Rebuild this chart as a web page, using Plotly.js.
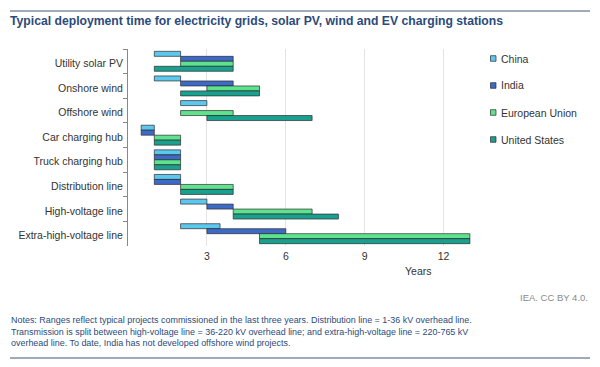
<!DOCTYPE html>
<html><head><meta charset="utf-8">
<script src="https://cdn.plot.ly/plotly-3.0.1.min.js"></script>
<style>body{margin:0;background:#fff}#c{width:600px;height:367px}</style>
</head><body><div id="c"></div>
<script>
var categories = ["Utility solar PV","Onshore wind","Offshore wind","Car charging hub","Truck charging hub","Distribution line","High-voltage line","Extra-high-voltage line"];
var seriesNames = ["China","India","European Union","United States"];
var chinaStart = [1,1,2,0.5,1,1,2,2];
var chinaEnd   = [2,2,3,1,2,2,3,3.5];
var indiaStart = [2,2,null,0.5,1,1,3,3];
var indiaEnd   = [4,4,null,1,2,2,4,6];
var euStart    = [2,3,2,1,1,2,4,5];
var euEnd      = [4,5,4,2,2,4,7,13];
var usStart    = [1,2,3,1,1,2,4,5];
var usEnd      = [4,5,7,2,2,4,8,13];
var xTicks = [3,6,9,12];

var colors = ["#5cc8ee","#3d6ac6","#5fe28e","#19a08e"];
var starts = [chinaStart, indiaStart, euStart, usStart];
var ends = [chinaEnd, indiaEnd, euEnd, usEnd];

var W=600,H=367, L=128, R=590, T=49, B=246, PXPERYEAR=26.3;
function px(x){return (x-L)/(R-L);}
function py(y){return (B-y)/(B-T);}

var traces = seriesNames.map(function(n,i){
  return {
    type:'bar', orientation:'h', name:n, y:categories,
    base: starts[i],
    x: ends[i].map(function(e,j){return (e===null||starts[i][j]===null)?null:e-starts[i][j];}),
    marker:{color:colors[i], line:{color:'rgba(40,40,40,0.85)', width:0.8}},
    hoverinfo:'none'
  };
});

var shapes = [
  {type:'line', xref:'paper', yref:'paper', x0:px(10), x1:px(590), y0:py(11), y1:py(11), line:{color:'#7f8ea3', width:1.3}},
  {type:'line', xref:'paper', yref:'paper', x0:px(10), x1:px(590), y0:py(358), y1:py(358), line:{color:'#7f8ea3', width:1.3}}
];
var annotations = [
  {text:'Years', xref:'paper', yref:'paper', x:px(418), y:py(271), xanchor:'center', yanchor:'middle', showarrow:false, font:{size:10.5, color:'#333'}},
  {text:'IEA. CC BY 4.0.', xref:'paper', yref:'paper', x:px(590), y:py(297), xanchor:'right', yanchor:'middle', showarrow:false, font:{size:9.5, color:'#8a8a8a'}},
  {text:'Notes: Ranges reflect typical projects commissioned in the last three years. Distribution line = 1-36 kV overhead line.<br>Transmission is split between high-voltage line = 36-220 kV overhead line; and extra-high-voltage line = 220-765 kV<br>overhead line. To date, India has not developed offshore wind projects.',
    xref:'paper', yref:'paper', x:px(9), y:py(312.5), xanchor:'left', yanchor:'top', align:'left', showarrow:false,
    font:{size:8.95, color:'#2b4b7b'}}
];
// custom legend
seriesNames.forEach(function(n,i){
  var yc = 58.5 + i*27;
  shapes.push({type:'rect', xref:'paper', yref:'paper', x0:px(490.5), x1:px(496), y0:py(yc-2.8), y1:py(yc+2.8),
    fillcolor:colors[i], line:{color:'rgba(40,40,40,0.85)', width:0.8}});
  annotations.push({text:n, xref:'paper', yref:'paper', x:px(498.5), y:py(yc), xanchor:'left', yanchor:'middle', showarrow:false,
    font:{size:10.5, color:'#333'}});
});

var layout = {
  width:W, height:H,
  margin:{l:L, r:W-R, t:T, b:H-B, pad:0},
  paper_bgcolor:'#fff', plot_bgcolor:'rgba(0,0,0,0)',
  font:{family:'Liberation Sans, Arial, sans-serif', color:'#333', size:10.5},
  barmode:'group', bargap:0.19, bargroupgap:0,
  title:{text:'<b>Typical deployment time for electricity grids, solar PV, wind and EV charging stations</b>',
    x:10/W, xanchor:'left', xref:'container', y:1-21/H, yanchor:'middle', yref:'container',
    font:{size:12.2, color:'#2b4b7b', family:'Liberation Sans, Arial, sans-serif'}},
  xaxis:{range:[0,(R-L)/PXPERYEAR], tickvals:xTicks, ticktext:xTicks.map(String), showgrid:true, gridcolor:'#e3e3e3', gridwidth:1,
    zeroline:false, showline:false, ticks:'', fixedrange:true, tickfont:{size:10.5, color:'#333'}, ticklabelstandoff:2},
  yaxis:{type:'category', range:[7.5,-0.5], showline:true, linecolor:'#888', linewidth:1, ticks:'outside', ticklen:4, tickcolor:'#888',
    tickson:'boundaries', showgrid:false, zeroline:false, tickfont:{size:10.5, color:'#333'}, ticklabelstandoff:2, ticklabelshift:-2},
  showlegend:false,
  shapes:shapes,
  annotations:annotations
};
Plotly.newPlot('c', traces, layout, {staticPlot:true, displayModeBar:false});
</script></body></html>
